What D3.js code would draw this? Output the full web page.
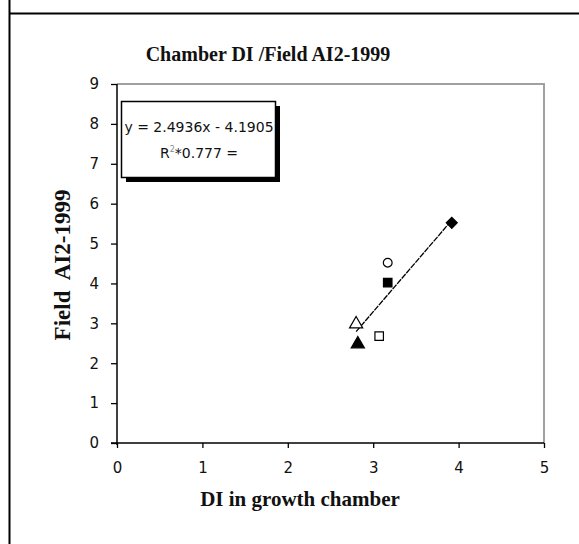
<!DOCTYPE html>
<html><head><meta charset="utf-8">
<script src="https://cdn.jsdelivr.net/npm/d3@7"></script>
<style>html,body{margin:0;padding:0;background:#fff;}svg{display:block;}</style>
</head><body>
<script>
// Data
const diChamber = [3.92, 3.17, 3.17, 2.80, 2.82, 3.07];
const fieldAI2 = [5.52, 4.52, 4.02, 2.98, 2.48, 2.68];
const markerShapes = ["diamond", "circle", "square", "triangle", "triangle", "square"];
const markerFilled = [true, false, true, false, true, false];
const xTicks = [0, 1, 2, 3, 4, 5];
const yTicks = [0, 1, 2, 3, 4, 5, 6, 7, 8, 9];
const slope = 2.4936, intercept = -4.1905;
const eqText = "y = 2.4936x - 4.1905";
const titleText = "Chamber DI /Field AI2-1999";
const xTitle = "DI in growth chamber";
const yTitle = "Field  AI2-1999";

const W = 579, H = 544;
const svg = d3.select("body").append("svg").attr("width", W).attr("height", H);
svg.append("rect").attr("width", W).attr("height", H).attr("fill", "#fff");

// outer frame
svg.append("line").attr("x1", 9.5).attr("x2", 9.5).attr("y1", 0).attr("y2", H).attr("stroke", "#000").attr("stroke-width", 2);
svg.append("line").attr("x1", 9).attr("x2", W).attr("y1", 13.5).attr("y2", 13.5).attr("stroke", "#000").attr("stroke-width", 2);

const x = d3.scaleLinear().domain([0, 5]).range([117, 544]);
const y = d3.scaleLinear().domain([0, 9]).range([443, 84]);

// plot area gray border (top/right)
svg.append("path")
  .attr("d", `M${x(0)},${y(9)}H${x(5)}V${y(0)}`)
  .attr("fill", "none").attr("stroke", "#a0a0a0").attr("stroke-width", 2);

// axes
const tickFont = "'DejaVu Sans', sans-serif";
const gx = svg.append("g").attr("transform", `translate(0,${y(0)})`)
  .call(d3.axisBottom(x).tickValues(xTicks).tickSize(5).tickPadding(14).tickFormat(d3.format("d")));
const gy = svg.append("g").attr("transform", `translate(${x(0)},0)`)
  .call(d3.axisLeft(y).tickValues(yTicks).tickSize(6).tickPadding(12).tickFormat(d3.format("d")));
[gx, gy].forEach(g => {
  g.select(".domain").attr("stroke", "#000").attr("stroke-width", 1.5);
  g.selectAll(".tick line").attr("stroke", "#000").attr("stroke-width", 1.3);
  g.selectAll("text").attr("font-family", tickFont).attr("font-size", 15).attr("fill", "#111");
});
gy.select(".domain").attr("d", `M0,${y(9)}V${y(0) + 2}`);
gx.select(".domain").attr("d", `M${x(0) - 6},0H${x(5)}`);

// regression line over data x-range
const xMin = d3.min(diChamber), xMax = d3.max(diChamber);
const lineData = [xMin, xMax].map(v => [v, slope * v + intercept]);
svg.append("path")
  .attr("d", d3.line().x(d => x(d[0])).y(d => y(d[1]))(lineData))
  .attr("stroke", "#000").attr("stroke-width", 1.3).attr("stroke-dasharray", "6,1").attr("fill", "none");

// markers
const symMap = { circle: d3.symbolCircle, square: d3.symbolSquare, triangle: d3.symbolTriangle };
const sizeMap = { circle: 60, square: 72, triangle: 75 };
svg.append("g").selectAll("path.pt")
  .data(diChamber.map((v, i) => ({ x: v, y: fieldAI2[i], s: markerShapes[i], f: markerFilled[i] })))
  .join("path")
  .attr("transform", d => `translate(${x(d.x)},${y(d.y)})` + (d.s === "diamond" ? " rotate(45)" : ""))
  .attr("d", d => d.s === "diamond" ? d3.symbol().type(d3.symbolSquare).size(60)() : d3.symbol().type(symMap[d.s]).size(sizeMap[d.s])())
  .attr("fill", d => d.f ? "#000" : "#fff")
  .attr("stroke", "#000").attr("stroke-width", 1.2);

// equation box with shadow
const bx = 121, by = 101, bw = 154, bh = 76;
svg.append("rect").attr("x", bx + 5).attr("y", by + 5).attr("width", bw).attr("height", bh).attr("fill", "#000");
svg.append("rect").attr("x", bx + 0.5).attr("y", by + 0.5).attr("width", bw).attr("height", bh)
  .attr("fill", "#fff").attr("stroke", "#000").attr("stroke-width", 1.5);
const eqFont = "'DejaVu Sans', sans-serif";
svg.append("text").attr("x", bx + bw / 2 + 1).attr("y", by + 31).attr("text-anchor", "middle")
  .attr("font-family", eqFont).attr("font-size", 14).attr("fill", "#111").text(eqText);
const r2 = svg.append("text").attr("x", bx + bw / 2 + 1).attr("y", by + 57).attr("text-anchor", "middle")
  .attr("font-family", eqFont).attr("font-size", 14).attr("fill", "#111");
r2.append("tspan").text("R");
r2.append("tspan").attr("dy", -6).attr("font-size", 8).attr("fill", "#888").text("2");
r2.append("tspan").attr("dy", 6).text("*0.777 =");

// titles
const serif = "'Liberation Serif', 'Times New Roman', serif";
svg.append("text").attr("x", 268).attr("y", 61).attr("text-anchor", "middle")
  .attr("font-family", serif).attr("font-weight", "bold").attr("font-size", 20).attr("fill", "#111").text(titleText);
svg.append("text").attr("x", 300).attr("y", 506).attr("text-anchor", "middle")
  .attr("font-family", serif).attr("font-weight", "bold").attr("font-size", 21).attr("fill", "#111").text(xTitle);
svg.append("text").attr("transform", `translate(70,265) rotate(-90)`).attr("text-anchor", "middle")
  .attr("font-family", serif).attr("font-weight", "bold").attr("font-size", 23).attr("fill", "#111")
  .attr("xml:space", "preserve").style("white-space", "pre").text(yTitle);
</script>
</body></html>
